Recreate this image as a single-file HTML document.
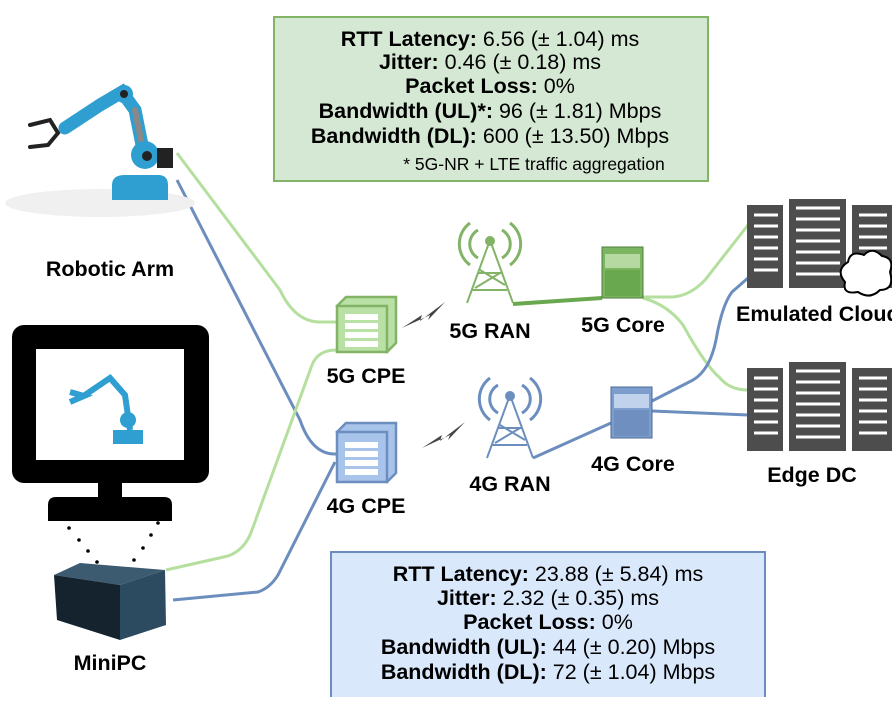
<!DOCTYPE html>
<html><head><meta charset="utf-8"><style>
body{margin:0;background:#fff;}
.t{font-family:"Liberation Sans",sans-serif;}
</style></head><body>
<svg width="892" height="697" viewBox="0 0 892 697" xmlns="http://www.w3.org/2000/svg" class="t">
<!-- connectors -->
<g fill="none" stroke-width="3">
<path d="M177,153 L280,290 Q295,322 320,322 L336,322" stroke="#b5df9e"/>
<path d="M177,180 L300,420 Q312,455 336,454" stroke="#6c8ebf"/>
<path d="M166,570 L228,556 Q245,550 252,530 L312,365 Q318,350 336,350" stroke="#b5df9e"/>
<path d="M173,600 L258,592 Q270,588 278,575 L335,462" stroke="#6c8ebf"/>
<path d="M513,304 L602,298" stroke="#6aa84f" stroke-width="4"/>
<path d="M643,297 L672,297 Q690,296 705,280 L748,225" stroke="#b5df9e"/>
<path d="M643,298 Q668,305 683,325 Q705,365 720,378 Q730,390 748,390" stroke="#b5df9e"/>
<path d="M533,458 L611,423" stroke="#6c8ebf"/>
<path d="M652,401 L693,380 Q710,370 716,340 Q722,305 732,292 L748,278" stroke="#6c8ebf"/>
<path d="M652,411 L748,415" stroke="#6c8ebf"/>
</g>
<!-- green box -->
<rect x="274" y="17" width="434" height="164" fill="#d5e8d4" stroke="#82b366" stroke-width="2"/>
<g font-size="21.5" text-anchor="middle" fill="#000">
<text x="490" y="46"><tspan font-weight="bold">RTT Latency:</tspan> 6.56 (± 1.04) ms</text>
<text x="490" y="69"><tspan font-weight="bold">Jitter:</tspan> 0.46 (± 0.18) ms</text>
<text x="490" y="93"><tspan font-weight="bold">Packet Loss:</tspan> 0%</text>
<text x="490" y="118"><tspan font-weight="bold">Bandwidth (UL)*:</tspan> 96 (± 1.81) Mbps</text>
<text x="490" y="143"><tspan font-weight="bold">Bandwidth (DL):</tspan> 600 (± 13.50) Mbps</text>
</g>
<text x="534" y="170" font-size="17.5" text-anchor="middle">* 5G-NR + LTE traffic aggregation</text>
<!-- blue box -->
<rect x="331" y="552" width="434" height="150" fill="#dae8fc" stroke="#6c8ebf" stroke-width="2"/>
<g font-size="21.5" text-anchor="middle">
<text x="548" y="581"><tspan font-weight="bold">RTT Latency:</tspan> 23.88 (± 5.84) ms</text>
<text x="548" y="605"><tspan font-weight="bold">Jitter:</tspan> 2.32 (± 0.35) ms</text>
<text x="548" y="629"><tspan font-weight="bold">Packet Loss:</tspan> 0%</text>
<text x="548" y="654"><tspan font-weight="bold">Bandwidth (UL):</tspan> 44 (± 0.20) Mbps</text>
<text x="548" y="679"><tspan font-weight="bold">Bandwidth (DL):</tspan> 72 (± 1.04) Mbps</text>
</g>
<!-- robot arm -->
<ellipse cx="100" cy="203" rx="95" ry="14" fill="#f0f0f0"/>
<g stroke-linecap="round" fill="none">
<path d="M145,160 L135,110 L122,92 L100,105 L65,128" stroke="#2e9fd0" stroke-width="13"/>
<path d="M135,110 L145,160" stroke="#888" stroke-width="6"/>
<path d="M30,125 L50,120 L58,133 L48,145 L30,147" stroke="#222" stroke-width="4"/>
</g>
<circle cx="124" cy="94" r="9" fill="#2e9fd0"/><circle cx="124" cy="94" r="4" fill="#222"/>
<circle cx="145" cy="155" r="14" fill="#2e9fd0"/><circle cx="147" cy="156" r="5" fill="#222"/>
<path d="M112,200 L112,185 Q112,175 125,175 L158,175 Q168,175 168,185 L168,200 Z" fill="#2e9fd0"/>
<rect x="157" y="148" width="16" height="20" fill="#222"/>
<text x="110" y="276" font-size="21.5" font-weight="bold" text-anchor="middle">Robotic Arm</text>
<!-- monitor -->
<rect x="12" y="325" width="197" height="158" rx="12" fill="#000"/>
<rect x="36" y="349" width="148" height="111" fill="#fff"/>
<path d="M130,430 L125,395 L110,378 L85,395 M70,392 L84,396 L70,402" stroke="#2e9fd0" stroke-width="6" fill="none"/>
<circle cx="128" cy="420" r="8" fill="#2e9fd0"/>
<rect x="113" y="430" width="30" height="14" fill="#2e9fd0"/>
<rect x="98" y="483" width="24" height="16" fill="#000"/>
<path d="M48,521 L48,505 Q48,497 56,497 L164,497 Q172,497 172,505 L172,521 Z" fill="#000"/>
<g fill="#000"><circle cx="69" cy="528" r="1.8"/><circle cx="79" cy="540" r="1.8"/><circle cx="88" cy="551" r="1.8"/><circle cx="97" cy="562" r="1.8"/>
<circle cx="158" cy="523" r="1.8"/><circle cx="151" cy="535" r="1.8"/><circle cx="143" cy="548" r="1.8"/><circle cx="134" cy="560" r="1.8"/></g>
<!-- minipc -->
<path d="M54,575 L80,563 L165,570 L120,585 Z" fill="#3c5a70"/>
<path d="M54,575 L120,585 L120,640 L57,620 Z" fill="#15232e"/>
<path d="M120,585 L165,570 L166,625 L120,640 Z" fill="#2c4a60"/>
<text x="110" y="670" font-size="21.5" font-weight="bold" text-anchor="middle">MiniPC</text>
<!-- CPEs -->
<g stroke-width="2.5">
<path d="M337,306 L346,297 L396,297 L396,343 L387,352 Z" fill="#b9e0a5" stroke="#82b366"/>
<rect x="337" y="306" width="50" height="46" fill="#b9e0a5" stroke="#82b366"/>
<path d="M337,432 L346,423 L396,423 L396,473 L387,482 Z" fill="#a9c4eb" stroke="#6c8ebf"/>
<rect x="337" y="432" width="50" height="50" fill="#a9c4eb" stroke="#6c8ebf"/>
</g>
<g fill="#fff"><rect x="345" y="314" width="33" height="6"/><rect x="345" y="323" width="33" height="6"/><rect x="345" y="332" width="33" height="6"/><rect x="345" y="341" width="33" height="6"/>
<rect x="345" y="442" width="33" height="6"/><rect x="345" y="451" width="33" height="6"/><rect x="345" y="460" width="33" height="6"/><rect x="345" y="469" width="33" height="6"/></g>
<g font-size="21.5" font-weight="bold" text-anchor="middle">
<text x="366" y="383">5G CPE</text><text x="366" y="513">4G CPE</text>
<text x="490" y="338">5G RAN</text><text x="510" y="491">4G RAN</text>
<text x="623" y="332">5G Core</text><text x="633" y="471">4G Core</text>
<text x="736" y="321" text-anchor="start">Emulated Cloud</text>
<text x="812" y="482">Edge DC</text>
</g>
<!-- lightning -->
<path d="M402,328 L422,315 L420,321 L445,302 L428,320 L430,315 Z" fill="#444"/>
<path d="M422,448 L442,435 L440,441 L465,422 L448,440 L450,435 Z" fill="#444"/>
<!-- towers -->
<g fill="none" stroke="#82b366" stroke-width="2">
<path d="M467,303 L490,240 L513,303 M478,273 L502,273 M472,290 L507,290 M480,270 L505,285 M475,288 L500,273"/>
<path d="M478,230 A16,16 0 0 0 478,258 M502,230 A16,16 0 0 1 502,258 M470,223 A26,26 0 0 0 470,265 M510,223 A26,26 0 0 1 510,265" stroke-width="3"/>
<circle cx="490" cy="241" r="4" fill="#82b366"/>
</g>
<g fill="none" stroke="#6c8ebf" stroke-width="2">
<path d="M487,458 L510,395 L533,458 M498,428 L522,428 M492,445 L527,445 M500,425 L525,440 M495,443 L520,428"/>
<path d="M498,385 A16,16 0 0 0 498,413 M522,385 A16,16 0 0 1 522,413 M490,378 A26,26 0 0 0 490,420 M530,378 A26,26 0 0 1 530,420" stroke-width="3"/>
<circle cx="510" cy="396" r="4" fill="#6c8ebf"/>
</g>
<!-- cores -->
<rect x="602" y="247" width="41" height="51" fill="#7cb561" stroke="#4e7d3a"/>
<rect x="605" y="254" width="35" height="14" fill="#b5d9a0"/>
<rect x="605" y="270" width="35" height="26" fill="#6aa84f"/>
<rect x="611" y="387" width="41" height="51" fill="#7d9dcc" stroke="#4a6a99"/>
<rect x="614" y="394" width="35" height="14" fill="#c0d2ec"/>
<rect x="614" y="410" width="35" height="26" fill="#6f8fc0"/>
<!-- server racks -->
<g>
<rect x="747" y="205" width="36" height="83" fill="#4d4d4d"/>
<rect x="789" y="199" width="57" height="89" fill="#4d4d4d"/>
<rect x="852" y="205" width="40" height="83" fill="#4d4d4d"/>
<g stroke="#fff" stroke-width="3">
<path d="M754,215 H778 M754,226 H778 M754,237 H778 M754,248 H778 M754,259 H778 M754,270 H778"/>
<path d="M796,208 H840 M796,219 H840 M796,230 H840 M796,241 H840 M796,252 H840 M796,263 H840 M796,274 H840"/>
<path d="M859,215 H887 M859,226 H887 M859,237 H887 M859,248 H887"/>
</g>
</g>
<path d="M845,282 Q835,270 848,262 Q850,250 864,255 Q872,246 882,256 Q895,258 890,272 Q895,290 880,290 Q870,300 858,292 Q842,295 845,282 Z" fill="#fff" stroke="#000" stroke-width="2"/>
<g transform="translate(0,163)">
<rect x="747" y="205" width="36" height="83" fill="#4d4d4d"/>
<rect x="789" y="199" width="57" height="89" fill="#4d4d4d"/>
<rect x="852" y="205" width="40" height="83" fill="#4d4d4d"/>
<g stroke="#fff" stroke-width="3">
<path d="M754,215 H778 M754,226 H778 M754,237 H778 M754,248 H778 M754,259 H778 M754,270 H778"/>
<path d="M796,208 H840 M796,219 H840 M796,230 H840 M796,241 H840 M796,252 H840 M796,263 H840 M796,274 H840"/>
<path d="M859,215 H887 M859,226 H887 M859,237 H887 M859,248 H887 M859,259 H887 M859,270 H887"/>
</g>
</g>
</svg>
</body></html>
